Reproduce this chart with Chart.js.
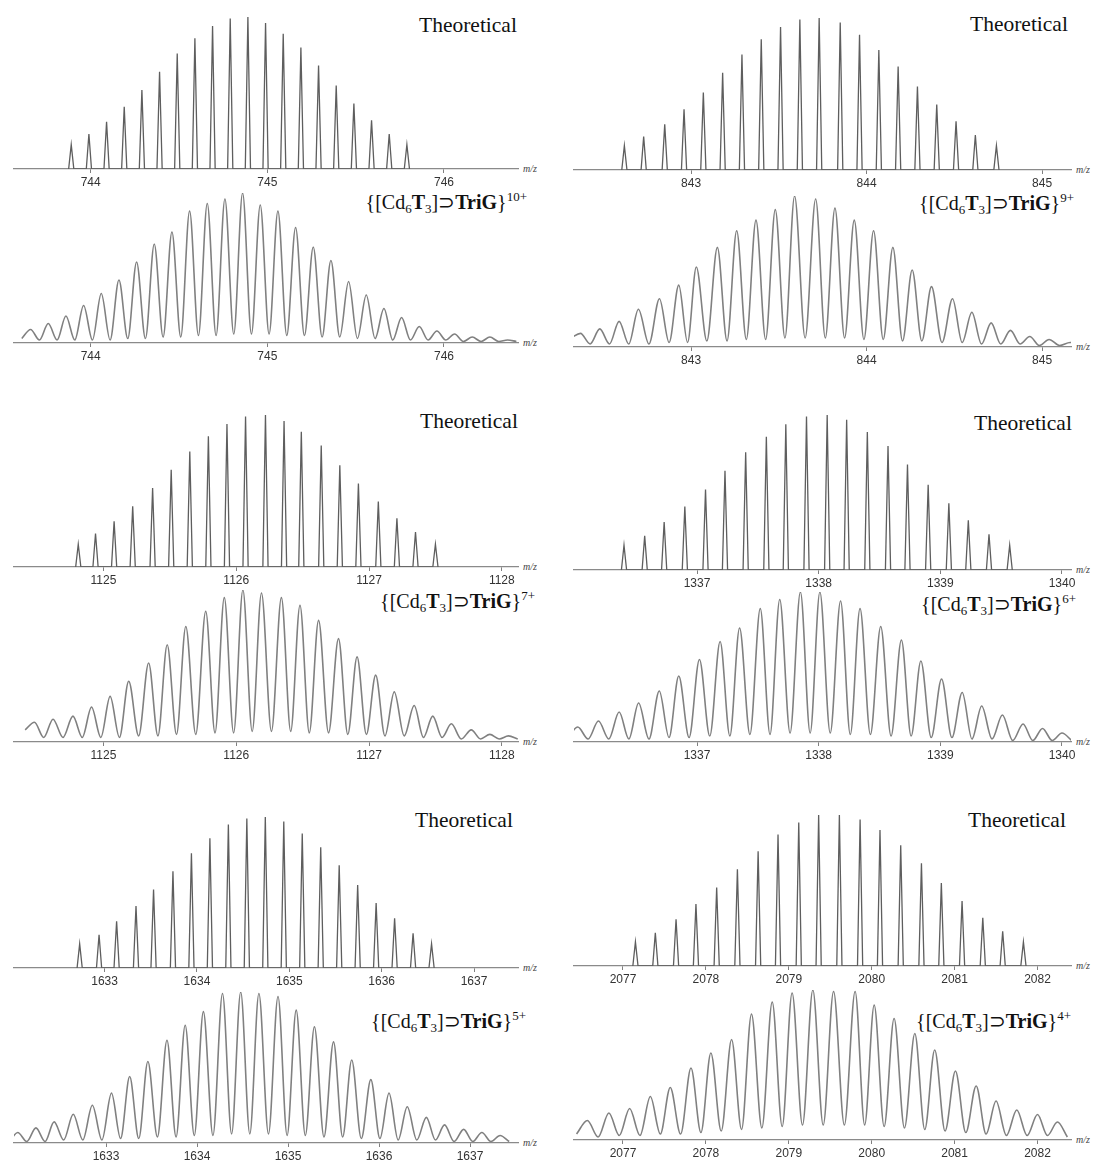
<!DOCTYPE html>
<html>
<head>
<meta charset="utf-8">
<script src="https://cdn.jsdelivr.net/npm/chart.js@4.4.1/dist/chart.umd.min.js"></script>
<style>
  body { margin: 0; background: #fff; width: 1096px; height: 1162px; position: relative; overflow: hidden; }
  .panel { position: absolute; }
  .lbl { position: absolute; font-family: "Liberation Serif", "Times New Roman", serif; font-size: 20px; line-height: 20px; color: #111; white-space: nowrap; }
  .lbl sub { font-size: 13px; vertical-align: -4px; line-height: 0; }
  .lbl sup { font-size: 13px; vertical-align: 8px; line-height: 0; }
  .th { font-size: 21.5px; line-height: 22px; }
  .mz { position: absolute; font-family: "Liberation Serif", serif; font-style: italic; font-size: 10px; line-height: 10px; color: #444; }
</style>
</head>
<body>

<div class="lbl th" style="left:419px;top:14px">Theoretical</div>
<div class="lbl th" style="left:970px;top:13px">Theoretical</div>
<div class="lbl th" style="left:420px;top:410px">Theoretical</div>
<div class="lbl th" style="left:974px;top:412px">Theoretical</div>
<div class="lbl th" style="left:415px;top:809px">Theoretical</div>
<div class="lbl th" style="left:968px;top:809px">Theoretical</div>

<div class="lbl" style="right:569px;top:192px">{[Cd<sub>6</sub><b>T</b><sub>3</sub>]⊃<b>TriG</b>}<sup>10+</sup></div>
<div class="lbl" style="right:22px;top:193px">{[Cd<sub>6</sub><b>T</b><sub>3</sub>]⊃<b>TriG</b>}<sup>9+</sup></div>
<div class="lbl" style="right:561px;top:591px">{[Cd<sub>6</sub><b>T</b><sub>3</sub>]⊃<b>TriG</b>}<sup>7+</sup></div>
<div class="lbl" style="right:20px;top:594px">{[Cd<sub>6</sub><b>T</b><sub>3</sub>]⊃<b>TriG</b>}<sup>6+</sup></div>
<div class="lbl" style="right:570px;top:1011px">{[Cd<sub>6</sub><b>T</b><sub>3</sub>]⊃<b>TriG</b>}<sup>5+</sup></div>
<div class="lbl" style="right:25px;top:1011px">{[Cd<sub>6</sub><b>T</b><sub>3</sub>]⊃<b>TriG</b>}<sup>4+</sup></div>

<div class="mz" style="left:523px;top:164px">m/z</div>
<div class="mz" style="left:523px;top:338px">m/z</div>
<div class="mz" style="left:1076px;top:165px">m/z</div>
<div class="mz" style="left:1076px;top:342px">m/z</div>
<div class="mz" style="left:523px;top:562px">m/z</div>
<div class="mz" style="left:523px;top:737px">m/z</div>
<div class="mz" style="left:1076px;top:565px">m/z</div>
<div class="mz" style="left:1076px;top:737px">m/z</div>
<div class="mz" style="left:523px;top:963px">m/z</div>
<div class="mz" style="left:523px;top:1138px">m/z</div>
<div class="mz" style="left:1076px;top:961px">m/z</div>
<div class="mz" style="left:1076px;top:1135px">m/z</div>

<script>
// tick labels on each m/z axis
const ticks10 = [744, 745, 746];
const ticks9 = [843, 844, 845];
const ticks7 = [1125, 1126, 1127, 1128];
const ticks6 = [1337, 1338, 1339, 1340];
const ticks5 = [1633, 1634, 1635, 1636, 1637];
const ticks4 = [2077, 2078, 2079, 2080, 2081, 2082];

// 10+ : theoretical sticks and measured trace (relative intensity, %)
const theo10X = [743.89, 743.99, 744.09, 744.19, 744.29, 744.39, 744.49, 744.59, 744.69, 744.79,
                 744.89, 744.99, 745.09, 745.19, 745.29, 745.39, 745.49, 745.59, 745.69, 745.79];
const theo10Y = [16, 23, 31, 41, 52, 64, 76, 86, 94, 99, 100, 96, 89, 80, 68, 55, 43, 32, 23, 16];
const exp10X = [743.66, 743.76, 743.86, 743.96, 744.06, 744.16, 744.26, 744.36, 744.46, 744.56,
                744.66, 744.76, 744.86, 744.96, 745.06, 745.16, 745.26, 745.36, 745.46, 745.56,
                745.66, 745.76, 745.86, 745.96, 746.06, 746.16, 746.26, 746.36];
const exp10Y = [9, 13, 18, 25, 33, 42, 54, 66, 74, 88, 93, 96, 100, 92, 88, 77, 64, 55, 41, 32,
                23, 17, 11, 8, 6, 4, 4, 2];
const exp10Valley = [3, 2, 2, 2, 2, 2, 3, 3, 4, 4, 5, 5, 6, 6, 6, 5, 5, 4, 4, 3, 3, 2, 2, 2, 2, 1, 1, 1, 1];

// 9+
const theo9X = [842.62, 842.73, 842.85, 842.96, 843.07, 843.18, 843.29, 843.40, 843.51, 843.62,
                843.73, 843.85, 843.96, 844.07, 844.18, 844.29, 844.40, 844.51, 844.62, 844.74];
const theo9Y = [16, 22, 30, 40, 51, 64, 76, 86, 94, 99, 100, 97, 89, 79, 68, 55, 43, 32, 23, 16];
const exp9X = [842.37, 842.48, 842.59, 842.70, 842.82, 842.93, 843.03, 843.15, 843.26, 843.37,
               843.48, 843.59, 843.71, 843.82, 843.93, 844.04, 844.15, 844.26, 844.37, 844.49,
               844.60, 844.71, 844.82, 844.93, 845.04, 845.16];
const exp9Y = [9, 12, 17, 25, 32, 41, 53, 66, 77, 84, 91, 100, 98, 92, 84, 77, 66, 51, 40, 32,
               23, 16, 11, 7, 5, 3];
const exp9Valley = [6, 2, 2, 2, 2, 3, 3, 4, 4, 5, 5, 6, 6, 6, 6, 5, 5, 4, 4, 3, 3, 2, 2, 2, 1, 1, 1];

// 7+
const theo7X = [1124.81, 1124.94, 1125.08, 1125.22, 1125.37, 1125.51, 1125.65, 1125.79, 1125.93, 1126.07,
                1126.22, 1126.36, 1126.49, 1126.64, 1126.78, 1126.92, 1127.07, 1127.21, 1127.35, 1127.50];
const theo7Y = [15, 22, 30, 40, 52, 64, 76, 86, 94, 99, 100, 96, 89, 80, 67, 55, 43, 32, 23, 15];
const exp7X = [1124.48, 1124.62, 1124.77, 1124.91, 1125.05, 1125.19, 1125.34, 1125.48, 1125.62, 1125.77,
               1125.91, 1126.05, 1126.19, 1126.34, 1126.48, 1126.62, 1126.77, 1126.91, 1127.05, 1127.19,
               1127.34, 1127.48, 1127.62, 1127.77, 1127.91, 1128.05];
const exp7Y = [13, 15, 17, 23, 30, 40, 52, 64, 76, 86, 95, 100, 98, 95, 90, 80, 68, 56, 44, 33,
               24, 17, 12, 8, 5, 4];
const exp7Valley = [8, 3, 3, 3, 3, 3, 4, 4, 5, 5, 6, 6, 7, 7, 7, 6, 6, 5, 5, 4, 4, 3, 3, 2, 2, 2, 2];

// 6+
const theo6X = [1336.40, 1336.57, 1336.73, 1336.90, 1337.07, 1337.23, 1337.40, 1337.57, 1337.73, 1337.90,
                1338.07, 1338.23, 1338.40, 1338.57, 1338.73, 1338.90, 1339.07, 1339.23, 1339.40, 1339.57];
const theo6Y = [16, 22, 31, 41, 52, 64, 76, 86, 94, 99, 100, 97, 89, 80, 68, 55, 43, 32, 23, 16];
const exp6X = [1336.02, 1336.19, 1336.36, 1336.52, 1336.69, 1336.85, 1337.02, 1337.19, 1337.35, 1337.52,
               1337.68, 1337.85, 1338.01, 1338.18, 1338.34, 1338.51, 1338.68, 1338.84, 1339.01, 1339.18,
               1339.34, 1339.51, 1339.68, 1339.84, 1340.00];
const exp6Y = [10, 14, 20, 26, 34, 44, 55, 67, 76, 89, 95, 100, 100, 94, 89, 77, 68, 54, 42, 33,
               24, 18, 12, 9, 6];
const exp6Valley = [2, 2, 2, 2, 2, 3, 3, 4, 4, 5, 5, 6, 6, 6, 5, 5, 4, 4, 3, 3, 2, 2, 1, 1, 1, 1];

// 5+
const theo5X = [1632.73, 1632.94, 1633.13, 1633.34, 1633.53, 1633.74, 1633.94, 1634.14, 1634.34, 1634.54,
                1634.74, 1634.94, 1635.14, 1635.34, 1635.54, 1635.74, 1635.94, 1636.14, 1636.34, 1636.54];
const theo5Y = [16, 22, 31, 41, 52, 64, 76, 86, 95, 99, 100, 97, 89, 80, 68, 55, 43, 33, 23, 16];
const exp5X = [1632.03, 1632.23, 1632.43, 1632.64, 1632.85, 1633.06, 1633.26, 1633.46, 1633.67, 1633.87,
               1634.07, 1634.28, 1634.48, 1634.68, 1634.89, 1635.09, 1635.29, 1635.50, 1635.70, 1635.91,
               1636.11, 1636.31, 1636.52, 1636.72, 1636.93, 1637.13, 1637.33];
const exp5Y = [7, 10, 14, 19, 25, 33, 44, 54, 68, 78, 87, 99, 100, 99, 97, 88, 77, 67, 55, 42,
               33, 24, 17, 12, 9, 7, 5];
const exp5Valley = [0, 1, 1, 2, 2, 2, 3, 3, 4, 4, 5, 5, 6, 6, 6, 5, 5, 4, 4, 3, 3, 2, 2, 2, 1, 1, 1, 1];

// 4+
const theo4X = [2077.15, 2077.39, 2077.64, 2077.88, 2078.13, 2078.38, 2078.63, 2078.87, 2079.12, 2079.36,
                2079.61, 2079.86, 2080.10, 2080.35, 2080.60, 2080.84, 2081.09, 2081.34, 2081.58, 2081.83];
const theo4Y = [16, 22, 31, 41, 52, 64, 76, 87, 95, 100, 100, 97, 90, 80, 68, 55, 43, 32, 23, 16];
const exp4X = [2076.57, 2076.83, 2077.08, 2077.33, 2077.57, 2077.82, 2078.06, 2078.31, 2078.55, 2078.80,
               2079.04, 2079.29, 2079.54, 2079.80, 2080.03, 2080.27, 2080.52, 2080.76, 2081.01, 2081.26,
               2081.50, 2081.75, 2082.00, 2082.24];
const exp4Y = [13, 18, 21, 29, 35, 48, 58, 67, 84, 92, 98, 100, 99, 99, 90, 81, 71, 60, 46, 36,
               26, 20, 17, 12];
const exp4Valley = [4, 2, 3, 3, 4, 4, 5, 6, 7, 8, 9, 10, 10, 10, 10, 9, 8, 7, 6, 5, 4, 3, 3, 3, 2];

/**
 * Panel placement on the page: axis ends, axis height, top of the tallest peak, m/z range.
 */
const PANELS = [
  { kind: 'theo', xs: theo10X, ys: theo10Y, ticks: ticks10, left: 14, right: 518, axisY: 169, topY: 17, min: 743.566, max: 746.419 },
  { kind: 'exp', xs: exp10X, ys: exp10Y, valleys: exp10Valley, ticks: ticks10, left: 14, right: 518, axisY: 343, topY: 193, min: 743.566, max: 746.419 },
  { kind: 'theo', xs: theo9X, ys: theo9Y, ticks: ticks9, left: 574, right: 1071, axisY: 170, topY: 18, min: 842.333, max: 845.165 },
  { kind: 'exp', xs: exp9X, ys: exp9Y, valleys: exp9Valley, ticks: ticks9, left: 574, right: 1071, axisY: 347, topY: 196, min: 842.333, max: 845.165 },
  { kind: 'theo', xs: theo7X, ys: theo7Y, ticks: ticks7, left: 14, right: 518, axisY: 567, topY: 415, min: 1124.326, max: 1128.122 },
  { kind: 'exp', xs: exp7X, ys: exp7Y, valleys: exp7Valley, ticks: ticks7, left: 14, right: 518, axisY: 742, topY: 590, min: 1124.326, max: 1128.122 },
  { kind: 'theo', xs: theo6X, ys: theo6Y, ticks: ticks6, left: 574, right: 1071, axisY: 570, topY: 415, min: 1335.989, max: 1340.074 },
  { kind: 'exp', xs: exp6X, ys: exp6Y, valleys: exp6Valley, ticks: ticks6, left: 574, right: 1071, axisY: 742, topY: 592, min: 1335.989, max: 1340.074 },
  { kind: 'theo', xs: theo5X, ys: theo5Y, ticks: ticks5, left: 14, right: 518, axisY: 968, topY: 817, min: 1632.019, max: 1637.476 },
  { kind: 'exp', xs: exp5X, ys: exp5Y, valleys: exp5Valley, ticks: ticks5, left: 14, right: 518, axisY: 1143, topY: 992, min: 1631.989, max: 1637.527 },
  { kind: 'theo', xs: theo4X, ys: theo4Y, ticks: ticks4, left: 574, right: 1071, axisY: 966, topY: 815, min: 2076.409, max: 2082.404 },
  { kind: 'exp', xs: exp4X, ys: exp4Y, valleys: exp4Valley, ticks: ticks4, left: 574, right: 1071, axisY: 1140, topY: 990, min: 2076.409, max: 2082.404 }
];

const SIDE_PAD = 15;
const TOP_PAD = 2;
const AXIS_H = 25;

Chart.defaults.font.family = '"Liberation Sans", Arial, sans-serif';

// narrow stick for each theoretical isotope peak
function theoPoints(xs, ys, hw) {
  const pts = [];
  xs.forEach((x, i) => {
    pts.push({ x: x - hw, y: 0 }, { x: x, y: ys[i] }, { x: x + hw, y: 0 });
  });
  return pts;
}

// measured trace: valley, peak, valley ... valleys sit halfway between peaks
function expPoints(xs, ys, valleys) {
  const n = xs.length;
  const pts = [{ x: xs[0] - (xs[1] - xs[0]) / 2, y: valleys[0] }];
  for (let i = 0; i < n; i++) {
    pts.push({ x: xs[i], y: ys[i] });
    const next = i < n - 1 ? (xs[i] + xs[i + 1]) / 2 : xs[i] + (xs[i] - xs[i - 1]) / 2;
    pts.push({ x: next, y: valleys[i + 1] });
  }
  return pts;
}

function renderPanel(p) {
  const plotH = p.axisY - p.topY;
  const w = p.right - p.left + SIDE_PAD * 2;
  const h = plotH + TOP_PAD + AXIS_H;

  const box = document.createElement('div');
  box.className = 'panel';
  box.style.left = (p.left - SIDE_PAD) + 'px';
  box.style.top = (p.topY - TOP_PAD) + 'px';
  const canvas = document.createElement('canvas');
  canvas.width = w;
  canvas.height = h;
  canvas.style.width = w + 'px';
  canvas.style.height = h + 'px';
  box.appendChild(canvas);
  document.body.appendChild(box);

  const hw = 2.6 * (p.max - p.min) / (p.right - p.left);
  const data = p.kind === 'theo' ? theoPoints(p.xs, p.ys, hw) : expPoints(p.xs, p.ys, p.valleys);

  new Chart(canvas, {
    type: 'line',
    data: {
      datasets: [{
        data: data,
        borderColor: p.kind === 'theo' ? '#5e5e5e' : '#808080',
        borderWidth: p.kind === 'theo' ? 1.3 : 1.6,
        pointRadius: 0,
        fill: false,
        tension: 0,
        cubicInterpolationMode: p.kind === 'theo' ? 'default' : 'monotone'
      }]
    },
    options: {
      responsive: false,
      animation: false,
      devicePixelRatio: 1,
      events: [],
      layout: { padding: { left: SIDE_PAD, right: SIDE_PAD, top: TOP_PAD, bottom: 0 } },
      plugins: { legend: { display: false }, tooltip: { enabled: false } },
      scales: {
        x: {
          type: 'linear',
          min: p.min,
          max: p.max,
          afterBuildTicks: s => { s.ticks = p.ticks.map(v => ({ value: v })); },
          afterFit: s => { s.height = AXIS_H; s.paddingLeft = 0; s.paddingRight = 0; },
          ticks: {
            autoSkip: false,
            maxRotation: 0,
            padding: 2,
            color: '#333',
            font: { size: 12 },
            callback: v => String(v)
          },
          grid: { drawOnChartArea: false, drawTicks: true, tickLength: 4, color: '#808080' },
          border: { display: true, color: '#8a8a8a', width: 1.3 }
        },
        y: { display: false, min: 0, max: 100 }
      }
    }
  });
}

PANELS.forEach(renderPanel);
</script>
</body>
</html>
